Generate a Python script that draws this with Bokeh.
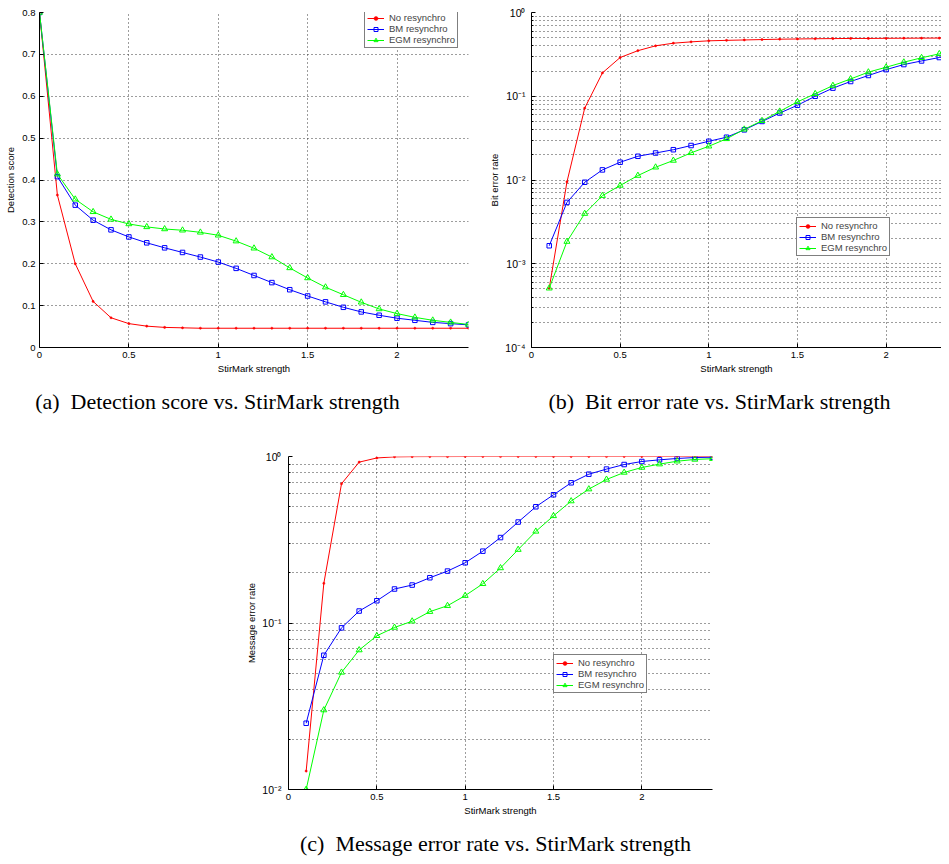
from bokeh.plotting import figure
from bokeh.models import Range1d, FixedTicker, Legend, LegendItem, Spacer
from bokeh.layouts import row, column
from bokeh.core.properties import value
from bokeh.embed import file_html
from bokeh.resources import INLINE

# ---------------- data ----------------
strength_a = [0.0, 0.1, 0.2, 0.3, 0.4, 0.5, 0.6, 0.7, 0.8, 0.9, 1.0, 1.1, 1.2,
              1.3, 1.4, 1.5, 1.6, 1.7, 1.8, 1.9, 2.0, 2.1, 2.2, 2.3, 2.4]
strength_bc = [0.1, 0.2, 0.3, 0.4, 0.5, 0.6, 0.7, 0.8, 0.9, 1.0, 1.1, 1.2,
               1.3, 1.4, 1.5, 1.6, 1.7, 1.8, 1.9, 2.0, 2.1, 2.2, 2.3, 2.4]

# (a) detection score
det_no = [0.80, 0.364, 0.200, 0.110, 0.071, 0.057, 0.051, 0.048, 0.047, 0.046,
          0.046, 0.046, 0.046, 0.046, 0.046, 0.046, 0.046, 0.046, 0.046, 0.046,
          0.046, 0.046, 0.046, 0.046, 0.046]
det_bm = [0.80, 0.408, 0.340, 0.304, 0.281, 0.264, 0.250, 0.238, 0.227, 0.216,
          0.204, 0.189, 0.172, 0.155, 0.138, 0.123, 0.109, 0.096, 0.085, 0.077,
          0.070, 0.065, 0.060, 0.057, 0.054]
det_egm = [0.80, 0.414, 0.354, 0.324, 0.306, 0.295, 0.288, 0.283, 0.280, 0.275,
           0.268, 0.254, 0.237, 0.216, 0.190, 0.166, 0.144, 0.126, 0.108, 0.092,
           0.081, 0.072, 0.065, 0.060, 0.055]

# (b) bit error rate
ber_no = [5.1e-4, 9.5e-3, 0.072, 0.19, 0.29, 0.35, 0.40, 0.43, 0.446, 0.459,
          0.465, 0.47, 0.475, 0.48, 0.483, 0.486, 0.488, 0.49, 0.49, 0.492,
          0.493, 0.494, 0.495, 0.495]
ber_bm = [1.64e-3, 5.4e-3, 9.4e-3, 0.0132, 0.0163, 0.0192, 0.021, 0.023, 0.0258,
          0.029, 0.0324, 0.0397, 0.050, 0.063, 0.078, 0.100, 0.125, 0.150, 0.177,
          0.208, 0.239, 0.264, 0.290, 0.31]
ber_egm = [5.1e-4, 1.84e-3, 3.97e-3, 6.5e-3, 8.6e-3, 0.0113, 0.0142, 0.0171,
           0.0211, 0.0253, 0.031, 0.0403, 0.051, 0.066, 0.0857, 0.107, 0.134,
           0.161, 0.194, 0.222, 0.255, 0.288, 0.321, 0.34]

# (c) message error rate
mer_no = [0.0129, 0.173, 0.686, 0.925, 0.98, 0.995, 0.998, 0.999, 0.999, 1.0,
          1.0, 1.0, 1.0, 1.0, 1.0, 1.0, 1.0, 1.0, 1.0, 1.0, 1.0, 1.0, 1.0, 1.0]
mer_bm = [0.025, 0.064, 0.0935, 0.118, 0.136, 0.160, 0.169, 0.187, 0.205, 0.230,
          0.270, 0.326, 0.404, 0.499, 0.589, 0.695, 0.783, 0.840, 0.895, 0.933,
          0.955, 0.973, 0.986, 0.99]
mer_egm = [0.0100, 0.030, 0.0505, 0.0688, 0.0838, 0.094, 0.1025, 0.117, 0.127,
           0.146, 0.172, 0.214, 0.276, 0.355, 0.44, 0.54, 0.637, 0.728, 0.802,
           0.859, 0.90, 0.937, 0.96, 0.97]

series_names = ["No resynchro", "BM resynchro", "EGM resynchro"]

x_ticks = [0.0, 0.5, 1.0, 1.5, 2.0]
x_tick_labels = ["0", "0.5", "1", "1.5", "2"]
det_ticks = [0.0, 0.1, 0.2, 0.3, 0.4, 0.5, 0.6, 0.7, 0.8]
det_tick_labels = ["0", "0.1", "0.2", "0.3", "0.4", "0.5", "0.6", "0.7", "0.8"]
ber_ticks = [1e-4, 1e-3, 1e-2, 1e-1, 1.0]
ber_tick_labels = ["10\u207b\u2074", "10\u207b\u00b3", "10\u207b\u00b2", "10\u207b\u00b9", "10\u2070"]
mer_ticks = [1e-2, 1e-1, 1.0]
mer_tick_labels = ["10\u207b\u00b2", "10\u207b\u00b9", "10\u2070"]

x_label = "StirMark strength"
y_labels = ["Detection score", "Bit error rate", "Message error rate"]
captions = ["(a)\u00a0 Detection score vs. StirMark strength",
            "(b)\u00a0 Bit error rate vs. StirMark strength",
            "(c)\u00a0 Message error rate vs. StirMark strength"]

# ---------------- style ----------------
SANS = "Liberation Sans"
SERIF = "Liberation Serif"
FS = "9.5px"
LOG_FS = "10.5px"
CAP_FS = "22px"
GRID_COL = "#3a3a3a"
GRID_DASH = "1 3"
COLORS = ["#ff0000", "#0000ff", "#00ff00"]


def minor_logs(lo_exp, hi_exp):
    return [k * 10.0 ** e for e in range(lo_exp, hi_exp) for k in range(2, 10)]


def make_fig(w, h, xr, yr, log, bl, br, bt, bb):
    p = figure(width=w, height=h, x_range=Range1d(*xr), y_range=Range1d(*yr),
               y_axis_type="log" if log else "linear", title=None,
               output_backend="svg", toolbar_location=None,
               min_border_left=bl, min_border_right=br,
               min_border_top=bt, min_border_bottom=bb)
    p.outline_line_color = None
    p.background_fill_color = "white"
    p.border_fill_color = "white"
    return p


def style(p, yt, ytl, yminor, ylabel, lab_standoff_y, ax_standoff_y):
    xt = FixedTicker(ticks=x_ticks)
    p.xaxis.ticker = xt
    p.xgrid.ticker = xt
    p.xaxis.major_label_overrides = dict(zip(x_ticks, x_tick_labels))
    if yminor:
        yt_ = FixedTicker(ticks=yt, minor_ticks=yminor)
    else:
        yt_ = FixedTicker(ticks=yt)
    p.yaxis.ticker = yt_
    p.ygrid.ticker = yt_
    p.yaxis.major_label_overrides = dict(zip(yt, ytl))
    for ax in (p.xaxis, p.yaxis):
        ax.axis_line_color = "black"
        ax.axis_line_width = 1
        ax.major_tick_in = 4
        ax.major_tick_out = 0
        ax.major_tick_line_color = "black"
        ax.major_label_text_font = SANS
        ax.major_label_text_font_size = FS
        ax.major_label_text_color = "black"
        ax.axis_label_text_font = SANS
        ax.axis_label_text_font_size = FS
        ax.axis_label_text_font_style = "normal"
        ax.axis_label_text_color = "black"
    p.xaxis.minor_tick_line_color = None
    p.xaxis.major_label_standoff = 4
    p.xaxis.axis_label_standoff = 2
    p.xaxis.axis_label = x_label
    p.yaxis.axis_label = ylabel
    p.yaxis.major_label_standoff = lab_standoff_y
    p.yaxis.axis_label_standoff = ax_standoff_y
    if yminor:
        p.yaxis.major_label_text_font_size = LOG_FS
        p.yaxis.minor_tick_in = 2
        p.yaxis.minor_tick_out = 0
        p.yaxis.minor_tick_line_color = "black"
        p.ygrid.minor_grid_line_color = GRID_COL
        p.ygrid.minor_grid_line_dash = GRID_DASH
        p.ygrid.minor_grid_line_width = 1
    else:
        p.yaxis.minor_tick_line_color = None
    for g in (p.xgrid, p.ygrid):
        g.grid_line_color = GRID_COL
        g.grid_line_dash = GRID_DASH
        g.grid_line_width = 1


def draw(p, xs, ys_list, legend_loc):
    items = []
    for name, ys, col, mk in zip(series_names, ys_list, COLORS,
                                 ["dot", "square", "triangle"]):
        ln = p.line(xs, ys, line_color=col, line_width=1)
        if mk == "dot":
            sc = p.scatter(xs, ys, marker="circle", size=2.2, line_color=col,
                           fill_color=col, line_width=0.5)
        elif mk == "square":
            sc = p.scatter(xs, ys, marker="square", size=4.5, line_color=col,
                           fill_color=None, line_width=1)
        else:
            sc = p.scatter(xs, ys, marker="triangle", size=6, line_color=col,
                           fill_color=None, line_width=1)
        items.append(LegendItem(label=name, renderers=[ln, sc]))
    lg = Legend(items=items, location=legend_loc, border_line_color="black",
                border_line_width=1, padding=2, spacing=0, margin=0,
                glyph_width=17, glyph_height=10, label_height=10,
                label_standoff=5, label_text_font=SANS,
                label_text_font_size=FS, background_fill_color="white",
                background_fill_alpha=1.0)
    p.add_layout(lg, "center")


def caption_fig(w, h, texts, xs, ys):
    c = figure(width=w, height=h, x_range=Range1d(0, w), y_range=Range1d(0, h),
               x_axis_location=None, y_axis_location=None, title=None,
               output_backend="svg", toolbar_location=None,
               min_border_left=0, min_border_right=0,
               min_border_top=0, min_border_bottom=0)
    c.outline_line_color = None
    c.xgrid.visible = False
    c.ygrid.visible = False
    c.background_fill_color = "white"
    c.border_fill_color = "white"
    c.text(x=xs, y=ys, text=texts, text_align="center",
           text_baseline="alphabetic", text_font=value(SERIF),
           text_font_size=CAP_FS, text_color="black")
    return c


# (a)  figure 480 x 380, frame 429 x 338
pa = make_fig(480, 380, (0, 2.4), (0, 0.8), False, 39, 12, 9, 33)
style(pa, det_ticks, det_tick_labels, None, y_labels[0], 4, 3)
draw(pa, strength_a, [det_no, det_bm, det_egm], (325, 299))

# (b)  figure 461 x 380, frame 410 x 335 (right part cropped like the source)
pb = make_fig(461, 380, (0, 2.3125), (1e-4, 1.0), True, 51, 0, 12, 33)
style(pb, ber_ticks, ber_tick_labels, minor_logs(-4, 0), y_labels[1], 6, 2)
draw(pb, strength_bc, [ber_no, ber_bm, ber_egm], (265, 91))

# caption row 1 (y 380..420)
cap1 = caption_fig(941, 40, captions[:2], [217, 719], [19, 19])

# (c)  figure 500 x 398, frame 424 x 334
pc = make_fig(500, 398, (0, 2.4), (1e-2, 1.0), True, 58, 18, 36, 28)
style(pc, mer_ticks, mer_tick_labels, minor_logs(-2, 0), y_labels[2], 7, 2)
draw(pc, strength_bc, [mer_no, mer_bm, mer_egm], (265, 96))

# caption row 2 (y 818..856)
cap2 = caption_fig(941, 38, captions[2:], [495], [13])

layout = column(row(pa, pb), cap1,
                row(Spacer(width=230, height=398), pc), cap2)

open("out.html", "w").write(file_html(layout, INLINE))
